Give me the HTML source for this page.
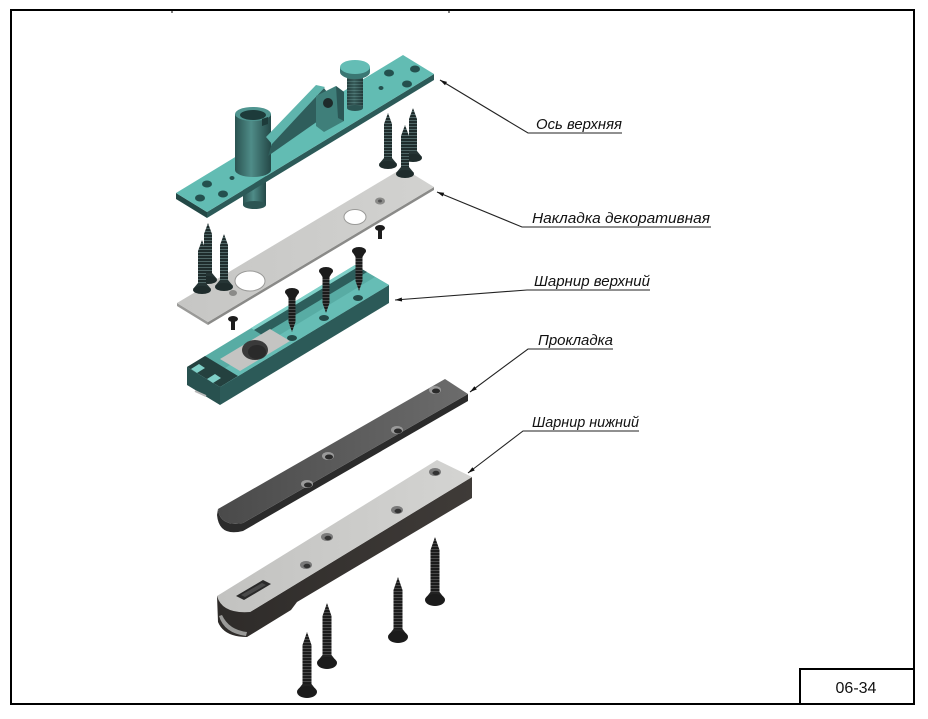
<!DOCTYPE html>
<html>
<head>
<meta charset="utf-8">
<style>
html,body{margin:0;padding:0;background:#fff;}
svg{display:block;}
</style>
</head>
<body>
<svg width="928" height="719" viewBox="0 0 928 719" xmlns="http://www.w3.org/2000/svg">
<defs>
  <pattern id="thrT" width="10" height="3" patternUnits="userSpaceOnUse">
    <rect width="10" height="3" fill="#1f2c2c"/><rect width="10" height="1" fill="#4f6666"/>
  </pattern>
  <pattern id="thrK" width="10" height="3" patternUnits="userSpaceOnUse">
    <rect width="10" height="3" fill="#1b1b1b"/><rect width="10" height="1" fill="#4a4a4a"/>
  </pattern>
  <linearGradient id="cyl" x1="0" x2="1" y1="0" y2="0">
    <stop offset="0" stop-color="#2a5351"/><stop offset="0.45" stop-color="#4f8c88"/><stop offset="1" stop-color="#244847"/>
  </linearGradient>
  <linearGradient id="spc" x1="0" x2="1" y1="0" y2="0">
    <stop offset="0" stop-color="#4a4a4a"/><stop offset="1" stop-color="#6c6c6c"/>
  </linearGradient>
  <linearGradient id="hng" x1="0" x2="1" y1="0" y2="0">
    <stop offset="0" stop-color="#c2c2c0"/><stop offset="1" stop-color="#d4d4d2"/>
  </linearGradient>
  <linearGradient id="hside" x1="0" x2="1" y1="0" y2="0">
    <stop offset="0" stop-color="#2e2b29"/><stop offset="1" stop-color="#3f3b38"/>
  </linearGradient>
  <linearGradient id="gplate" x1="0" x2="1" y1="0" y2="0">
    <stop offset="0" stop-color="#c6c6c4"/><stop offset="1" stop-color="#d2d2d0"/>
  </linearGradient>
</defs>

<!-- Frame -->
<rect x="11" y="10" width="903" height="694" fill="none" stroke="#000" stroke-width="2"/>
<line x1="172" y1="10" x2="172" y2="13" stroke="#000" stroke-width="1"/>
<line x1="449" y1="10" x2="449" y2="13" stroke="#000" stroke-width="1"/>
<path d="M800,704 V669 H914" fill="none" stroke="#000" stroke-width="2"/>
<text x="856" y="693" font-family="'Liberation Sans', Arial, sans-serif" font-size="16" text-anchor="middle" fill="#111">06-34</text>

<!-- ================= TOP PLATE (Ось верхняя) ================= -->
<rect x="243" y="176" width="23" height="29" fill="url(#cyl)"/>
<ellipse cx="254.5" cy="205" rx="11.5" ry="4" fill="#2c5553"/>
<polygon points="176,193 207,212 207,218 176,199" fill="#234846"/>
<polygon points="207,212 434,74 434,80 207,218" fill="#2c5a58"/>
<polygon points="176,193 403,55 434,74 207,212" fill="#62bcb3"/>
<!-- holes right -->
<g fill="#24504e">
  <ellipse cx="389" cy="73" rx="5" ry="3.5"/>
  <ellipse cx="415" cy="69" rx="5" ry="3.5"/>
  <ellipse cx="407" cy="84" rx="5" ry="3.5"/>
  <ellipse cx="381" cy="88" rx="2.5" ry="2"/>
  <ellipse cx="207" cy="184" rx="5" ry="3.5"/>
  <ellipse cx="223" cy="194" rx="5" ry="3.5"/>
  <ellipse cx="200" cy="198" rx="5" ry="3.5"/>
  <ellipse cx="232" cy="178" rx="2.5" ry="2"/>
</g>
<!-- cylinder -->
<rect x="235" y="114" width="36" height="56" fill="url(#cyl)"/>
<ellipse cx="253" cy="170" rx="18" ry="7" fill="url(#cyl)"/>
<ellipse cx="253" cy="114" rx="18" ry="7" fill="#4f9590"/>
<ellipse cx="253" cy="115" rx="13" ry="5" fill="#1d3b3a"/>
<polygon points="262,119 268,117 268,124 262,126" fill="#1d3b3a"/>
<!-- arm -->
<polygon points="268,156 272,143 324,88 330,96 326,114 318,121" fill="#2f5e5c"/>
<polygon points="266,137 316,85 325,87 272,144" fill="#5fb5ad"/>
<!-- bracket -->
<polygon points="316,96 336,86 344,92 344,121 324,132 316,126" fill="#3f7f7a"/>
<polygon points="336,86 344,92 344,121 338,118" fill="#2b5756"/>
<circle cx="328" cy="103" r="5" fill="#1e2a2a"/>
<!-- knob -->
<rect x="347" y="74" width="16" height="34" fill="url(#cyl)"/>
<rect x="347" y="78" width="16" height="28" fill="url(#thrT)" opacity="0.5"/>
<ellipse cx="355" cy="108" rx="8" ry="3" fill="#2c5553"/>
<rect x="340" y="67" width="30" height="5" fill="#3a7773"/>
<ellipse cx="355" cy="72" rx="15" ry="7" fill="#3a7773"/>
<ellipse cx="355" cy="67" rx="15" ry="7" fill="#64bdb5"/>

<!-- ================= DECORATIVE PLATE ================= -->
<polygon points="177,303 208,322 208,325 177,306" fill="#9a9a98"/>
<polygon points="208,322 434,187 434,190 208,325" fill="#8a8a88"/>
<polygon points="177,303 403,168 434,187 208,322" fill="url(#gplate)"/>
<ellipse cx="250" cy="281" rx="15" ry="10" fill="#fff" stroke="#9a9a98" stroke-width="1"/>
<ellipse cx="355" cy="217" rx="11" ry="7.5" fill="#fff" stroke="#9a9a98" stroke-width="1"/>
<ellipse cx="233" cy="293" rx="4" ry="3" fill="#8a8a88"/>
<ellipse cx="380" cy="201" rx="5" ry="3.5" fill="#8a8a88"/>
<ellipse cx="380" cy="201" rx="2" ry="1.5" fill="#555"/>

<!-- right screws (tip up) -->
<g>
  <path d="M384,161 V124 L388,113 L392,124 V161 Z" fill="url(#thrT)"/>
  <path d="M384,158 L392,158 L397,164 L379,164 Z" fill="#263535"/>
  <ellipse cx="388" cy="165" rx="9" ry="4" fill="#1f2c2c"/>
  <path d="M409,154 V119 L413,108 L417,119 V154 Z" fill="url(#thrT)"/>
  <path d="M409,151 L417,151 L422,157 L404,157 Z" fill="#263535"/>
  <ellipse cx="413" cy="158" rx="9" ry="4" fill="#1f2c2c"/>
  <path d="M401,170 V136 L405,125 L409,136 V170 Z" fill="url(#thrT)"/>
  <path d="M401,167 L409,167 L414,173 L396,173 Z" fill="#263535"/>
  <ellipse cx="405" cy="174" rx="9" ry="4" fill="#1f2c2c"/>
</g>
<!-- left screws (tip up) -->
<g>
  <path d="M204,276 V234 L208,223 L212,234 V276 Z" fill="url(#thrT)"/>
  <path d="M204,273 L212,273 L217,279 L199,279 Z" fill="#263535"/>
  <ellipse cx="208" cy="280" rx="9" ry="4" fill="#1f2c2c"/>
  <path d="M198,286 V251 L202,240 L206,251 V286 Z" fill="url(#thrT)"/>
  <path d="M198,283 L206,283 L211,289 L193,289 Z" fill="#263535"/>
  <ellipse cx="202" cy="290" rx="9" ry="4" fill="#1f2c2c"/>
  <path d="M220,283 V245 L224,234 L228,245 V283 Z" fill="url(#thrT)"/>
  <path d="M220,280 L228,280 L233,286 L215,286 Z" fill="#263535"/>
  <ellipse cx="224" cy="287" rx="9" ry="4" fill="#1f2c2c"/>
</g>
<!-- small screws -->
<g fill="#1c1c1c">
  <rect x="378" y="228" width="4" height="11"/>
  <ellipse cx="380" cy="228" rx="5" ry="3"/>
  <rect x="231" y="319" width="4" height="11"/>
  <ellipse cx="233" cy="319" rx="5" ry="3"/>
</g>

<!-- ================= UPPER HINGE (channel) ================= -->
<polygon points="187,367 220,387 220,405 187,385" fill="#28514f"/>
<line x1="195" y1="391" x2="206" y2="396" stroke="#b8b8b8" stroke-width="2"/>
<polygon points="220,387 389,285 389,303 220,405" fill="#2c5a58"/>
<polygon points="187,367 355,265 389,285 220,387" fill="#58aca4"/>
<polygon points="251,328 355,265 358,267 254,330" fill="#7fd0c8"/>
<polygon points="254,330 358,267 367,272 262,335" fill="#2d5e5c"/>
<polygon points="207,379 375,277 389,285 220,387" fill="#66bdb5"/>
<polygon points="187,367 205,356 238,376 220,387" fill="#24413f"/>
<polygon points="191,369 199,364 205,368 197,373" fill="#7fd0c8"/>
<polygon points="207,379 215,374 221,378 213,383" fill="#7fd0c8"/>
<polygon points="220,359 270,329 290,341 240,371" fill="#c4c4c2"/>
<ellipse cx="255" cy="350" rx="13" ry="10" fill="#3a3a3a"/>
<ellipse cx="257" cy="352" rx="9" ry="7" fill="#2a2a2a"/>
<g fill="#244a48">
  <ellipse cx="292" cy="338" rx="5" ry="3"/>
  <ellipse cx="324" cy="318" rx="5" ry="3"/>
  <ellipse cx="358" cy="298" rx="5" ry="3"/>
</g>
<!-- channel screws (head up) -->
<g>
  <path d="M288.5,294 V322 L292,332 L295.5,322 V294 Z" fill="url(#thrK)"/>
  <path d="M285,292 L299,292 L295.5,298 L288.5,298 Z" fill="#1c1c1c"/>
  <ellipse cx="292" cy="292" rx="7" ry="4" fill="#1c1c1c"/>
  <path d="M322.5,273 V303 L326,313 L329.5,303 V273 Z" fill="url(#thrK)"/>
  <path d="M319,271 L333,271 L329.5,277 L322.5,277 Z" fill="#1c1c1c"/>
  <ellipse cx="326" cy="271" rx="7" ry="4" fill="#1c1c1c"/>
  <path d="M355.5,253 V281 L359,291 L362.5,281 V253 Z" fill="url(#thrK)"/>
  <path d="M352,251 L366,251 L362.5,257 L355.5,257 Z" fill="#1c1c1c"/>
  <ellipse cx="359" cy="251" rx="7" ry="4" fill="#1c1c1c"/>
</g>

<!-- ================= SPACER (Прокладка) ================= -->
<path d="M243,523 L468,394 L468,401 L243,531 Q219,537 217,515 L218,509 Q220,527 243,523 Z" fill="#2b2b2b"/>
<path d="M218,509 L445,379 L468,394 L243,523 Q220,527 218,509 Z" fill="url(#spc)"/>
<g>
  <ellipse cx="435" cy="390" rx="6" ry="4" fill="#9a9a9a"/><ellipse cx="436" cy="391" rx="4" ry="2.5" fill="#2a2a2a"/>
  <ellipse cx="397" cy="430" rx="6" ry="4" fill="#9a9a9a"/><ellipse cx="398" cy="431" rx="4" ry="2.5" fill="#2a2a2a"/>
  <ellipse cx="328" cy="456" rx="6" ry="4" fill="#9a9a9a"/><ellipse cx="329" cy="457" rx="4" ry="2.5" fill="#2a2a2a"/>
  <ellipse cx="307" cy="484" rx="6" ry="4" fill="#9a9a9a"/><ellipse cx="308" cy="485" rx="4" ry="2.5" fill="#2a2a2a"/>
</g>

<!-- ================= LOWER HINGE (Шарнир нижний) ================= -->
<path d="M250,612 L472,477 L472,498 L297,602 L291,610 L247,637 Q224,637 218,622 L217,596 Z" fill="url(#hside)"/>
<path d="M219,616 Q224,633 246,636 L247,632 Q229,630 222,615 Z" fill="#9a9a98"/>
<path d="M217,596 L437,460 L472,477 L250,612 Q222,614 217,596 Z" fill="url(#hng)"/>
<path d="M236,596 L263,580 L271,584 L244,600 Z" fill="#2a2a2a"/>
<path d="M241,595 L262,583 L266,585 L245,597 Z" fill="#4a4a4a"/>
<g>
  <ellipse cx="435" cy="472" rx="6" ry="4" fill="#7a7a7a"/><ellipse cx="436" cy="473" rx="3.5" ry="2.2" fill="#333"/>
  <ellipse cx="397" cy="510" rx="6" ry="4" fill="#7a7a7a"/><ellipse cx="398" cy="511" rx="3.5" ry="2.2" fill="#333"/>
  <ellipse cx="327" cy="537" rx="6" ry="4" fill="#7a7a7a"/><ellipse cx="328" cy="538" rx="3.5" ry="2.2" fill="#333"/>
  <ellipse cx="306" cy="565" rx="6" ry="4" fill="#7a7a7a"/><ellipse cx="307" cy="566" rx="3.5" ry="2.2" fill="#333"/>
</g>

<!-- lower screws (tip up) -->
<g>
  <path d="M430.5,595 V550 L435,537 L439.5,550 V595 Z" fill="url(#thrK)"/>
  <path d="M430.5,592 L439.5,592 L445,599 L425,599 Z" fill="#222"/>
  <ellipse cx="435" cy="600" rx="10" ry="6" fill="#1b1b1b"/>
  <path d="M393.5,632 V590 L398,577 L402.5,590 V632 Z" fill="url(#thrK)"/>
  <path d="M393.5,629 L402.5,629 L408,636 L388,636 Z" fill="#222"/>
  <ellipse cx="398" cy="637" rx="10" ry="6" fill="#1b1b1b"/>
  <path d="M322.5,658 V616 L327,603 L331.5,616 V658 Z" fill="url(#thrK)"/>
  <path d="M322.5,655 L331.5,655 L337,662 L317,662 Z" fill="#222"/>
  <ellipse cx="327" cy="663" rx="10" ry="6" fill="#1b1b1b"/>
  <path d="M302.5,687 V645 L307,632 L311.5,645 V687 Z" fill="url(#thrK)"/>
  <path d="M302.5,684 L311.5,684 L317,691 L297,691 Z" fill="#222"/>
  <ellipse cx="307" cy="692" rx="10" ry="6" fill="#1b1b1b"/>
</g>

<!-- ================= LEADERS ================= -->
<g stroke="#222" stroke-width="1.1" fill="none">
  <polyline points="440,80 528,133 622,133"/>
  <polyline points="437,192 522,227 711,227"/>
  <polyline points="395,300 527,290 650,290"/>
  <polyline points="470,392 528,349 613,349"/>
  <polyline points="468,473 523,431 639,431"/>
</g>
<g fill="#111">
  <polygon points="440,80 447,81.9 445,85.3"/>
  <polygon points="437,192 444.2,192.8 442.7,196.5"/>
  <polygon points="395,300 401.8,297.5 402.1,301.5"/>
  <polygon points="470,392 474.4,386.2 476.8,389.4"/>
  <polygon points="468,473 472.4,467.2 474.8,470.4"/>
</g>

<g font-family="'Liberation Sans', 'DejaVu Sans', sans-serif" font-style="italic" font-size="15" fill="#111">
  <text x="536" y="129" textLength="86" lengthAdjust="spacingAndGlyphs">Ось верхняя</text>
  <text x="532" y="223" textLength="178" lengthAdjust="spacingAndGlyphs">Накладка декоративная</text>
  <text x="534" y="286" textLength="116" lengthAdjust="spacingAndGlyphs">Шарнир верхний</text>
  <text x="538" y="345" textLength="75" lengthAdjust="spacingAndGlyphs">Прокладка</text>
  <text x="532" y="427" textLength="107" lengthAdjust="spacingAndGlyphs">Шарнир нижний</text>
</g>
</svg>
</body>
</html>
